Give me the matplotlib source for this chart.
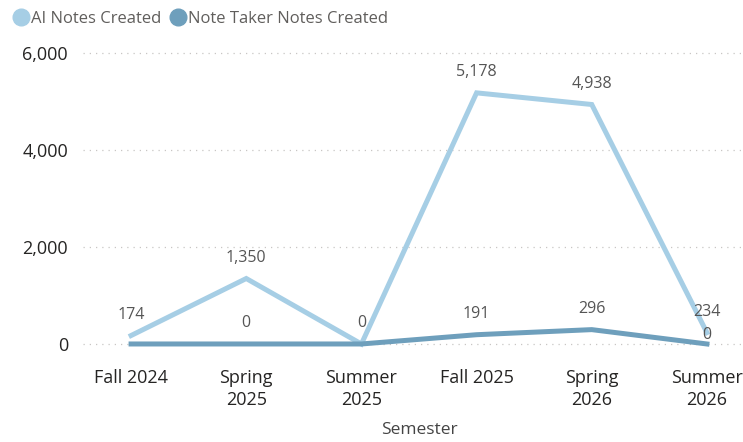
import matplotlib
matplotlib.use("Agg")
import matplotlib.pyplot as plt
from matplotlib.lines import Line2D

categories = ["Fall 2024", "Spring\n2025", "Summer\n2025", "Fall 2025", "Spring\n2026", "Summer\n2026"]
ai_notes = [174, 1350, 0, 5178, 4938, 234]
taker_notes = [0, 0, 0, 191, 296, 0]
series_names = ["AI Notes Created", "Note Taker Notes Created"]
yticks = [0, 2000, 4000, 6000]
# labels Power BI hid because of overlap
ai_label_shown = [True, True, True, True, True, True]
taker_label_shown = [False, True, False, True, True, True]

plt.rcParams['font.family'] = ['Open Sans', 'DejaVu Sans']
c_ai = "#A6CEE5"
c_nt = "#6E9FBC"
txt = "#252423"

fig = plt.figure(figsize=(7.43, 4.42), dpi=100)
W, H = 743, 442
left_px, right_px = 73.5, 764.5
top_px, bot_px = 33.6, 356.1
ax = fig.add_axes([left_px / W, 1 - bot_px / H, (right_px - left_px) / W, (bot_px - top_px) / H])

x = list(range(len(categories)))
ax.set_xlim(-0.5, 5.5)
ax.set_ylim(-250, 6400)

for y in yticks:
    ax.hlines(y, -0.42, 5.5, colors="#C8C6C4", linestyles=(0, (1, 4)), linewidth=0.9, zorder=0)

ax.plot(x, ai_notes, color=c_ai, linewidth=3.6, solid_joinstyle="miter", zorder=3)
ax.plot(x, taker_notes, color=c_nt, linewidth=3.6, solid_joinstyle="miter", zorder=4)

for xi, v, show in zip(x, ai_notes, ai_label_shown):
    if show:
        ax.annotate(f"{v:,}", (xi, v), xytext=(0, 9), textcoords="offset points",
                    ha="center", va="bottom", fontsize=11.5, color="#555555", zorder=5)
for xi, v, show in zip(x, taker_notes, taker_label_shown):
    if show:
        off = (0, 1) if xi == 5 else (0, 9)
        ax.annotate(f"{v:,}", (xi, v), xytext=off, textcoords="offset points",
                    ha="center", va="bottom", fontsize=11.5, color="#555555", zorder=5)

ax.set_xticks(x)
ax.set_xticklabels(categories, fontsize=13, color=txt, linespacing=1.3)
ax.set_yticks(yticks)
ax.set_yticklabels([f"{t:,}" for t in yticks], fontsize=13, color=txt)
ax.tick_params(axis="both", length=0)
ax.tick_params(axis="x", pad=9.5)
ax.tick_params(axis="y", pad=4)
for s in ax.spines.values():
    s.set_visible(False)

ax.set_xlabel("Semester", fontsize=12.5, color="#444444", labelpad=9)

handles = [Line2D([], [], marker="o", linestyle="none", markersize=12, color=c)
           for c in (c_ai, c_nt)]
fig.legend(handles, series_names, loc="upper left", bbox_to_anchor=(0.0, 1.0),
           ncol=2, frameon=False, fontsize=12, labelcolor="#605E5C",
           handletextpad=0.0, columnspacing=0.4, handlelength=1.2, borderaxespad=0.25)

fig.savefig("out.png", dpi=100)
